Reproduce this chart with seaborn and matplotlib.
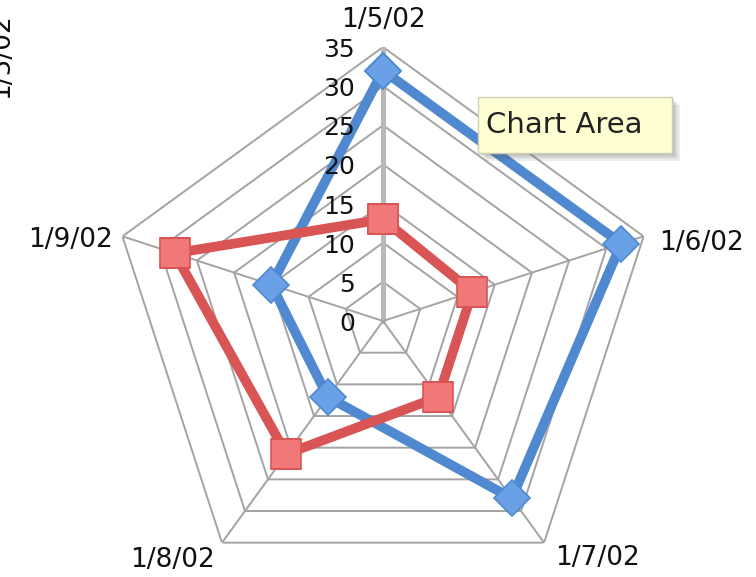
#!/usr/bin/env python3
"""Radar chart: two series over five dates (Excel-style pentagon grid)."""

import numpy as np
import matplotlib
matplotlib.use("Agg")
import matplotlib.pyplot as plt
import matplotlib.transforms as mtransforms
from matplotlib.patches import Rectangle
import seaborn as sns

# Data
categories = ["1/5/02", "1/6/02", "1/7/02", "1/8/02", "1/9/02"]
series_blue = [32, 32, 28, 12, 15]
series_red = [13, 12, 12, 21, 28]
radial_ticks = [0, 5, 10, 15, 20, 25, 30, 35]

# Style
sns.set_theme(style="white")
plt.rcParams["font.family"] = ["DejaVu Sans"]

BLUE = "#5089d0"
RED = "#d95454"
GRID = "#a3a3a3"


def closed(values):
    return list(values) + [values[0]]


fig = plt.figure(figsize=(7.56, 5.77), dpi=100)
ax = fig.add_axes([0.1442, -0.0312, 0.7249, 0.9497], projection="polar")
ax.set_theta_offset(np.pi / 2)
ax.set_theta_direction(-1)
ax.set_ylim(0, radial_ticks[-1])
ax.grid(False)
ax.set_xticks([])
ax.set_yticks([])
ax.spines["polar"].set_visible(False)
ax.patch.set_alpha(0)

angles = np.linspace(0, 2 * np.pi, len(categories), endpoint=False)
angles_c = list(angles) + [2 * np.pi]

# Pentagon grid
for level in radial_ticks[1:]:
    ax.plot(angles_c, [level] * len(angles_c), color=GRID, lw=1.4, zorder=1)
for i, a in enumerate(angles):
    ax.plot([a, a], [0, radial_ticks[-1]], color="#b8b8b8" if i == 0 else GRID,
            lw=3.6 if i == 0 else 1.4, zorder=1)

# Radial tick labels, left of the top spoke (drawn above the series)
tick_tr = mtransforms.offset_copy(ax.transData, fig=fig, x=-28, y=-3, units="dots")
for level in radial_ticks:
    ax.text(0, level, str(level), transform=tick_tr, ha="right", va="center",
            fontsize=18, color="#111111", zorder=10)

# Series (estimator=None so the closing point is not averaged away)
sns.lineplot(x=angles_c, y=closed(series_blue), ax=ax, sort=False,
             estimator=None, color=BLUE, lw=7, marker="D", markersize=18,
             markerfacecolor="#6aa0e6", markeredgecolor=BLUE,
             markeredgewidth=1.2, zorder=3)
sns.lineplot(x=angles_c, y=closed(series_red), ax=ax, sort=False,
             estimator=None, color=RED, lw=7, marker="s", markersize=21,
             markerfacecolor="#f07878", markeredgecolor=RED,
             markeredgewidth=1.2, zorder=4)
if ax.get_legend():
    ax.get_legend().remove()
ax.set_xlabel("")
ax.set_ylabel("")

# Category labels around the outer ring
label_fmt = [
    ("center", 0, 27),
    ("left", 16, -7),
    ("left", 11, -15),
    ("right", -7, -17),
    ("right", -10, -4),
]
for a, lab, (ha, dx, dy) in zip(angles, categories, label_fmt):
    tr = mtransforms.offset_copy(ax.transData, fig=fig, x=dx, y=dy, units="dots")
    ax.text(a, radial_ticks[-1], lab, transform=tr, ha=ha, va="center",
            fontsize=19, color="#111111", zorder=10)

# Tooltip with a soft drop shadow
W, H = 756, 577
bx, by, bw, bh = 478, 97, 194, 56
for k, alpha in enumerate([0.10, 0.10, 0.12, 0.14]):
    off = 8 - 2 * k
    fig.patches.append(Rectangle(((bx + off) / W, 1 - (by + bh + off) / H),
                                 bw / W, bh / H, transform=fig.transFigure,
                                 facecolor="#555555", edgecolor="none",
                                 alpha=alpha, zorder=5))
fig.patches.append(Rectangle((bx / W, 1 - (by + bh) / H), bw / W, bh / H,
                             transform=fig.transFigure, facecolor="#ffffd2",
                             edgecolor="#d0d0b8", lw=1, zorder=6))
fig.text((bx + 8) / W, 1 - (by + bh / 2) / H, "Chart Area", ha="left",
         va="center", fontsize=21, color="#222222", zorder=7)

# Clipped rotated title at the left edge
fig.text(8 / W, 1 - 98 / H, "1/5/02", rotation=90, rotation_mode="anchor",
         ha="left", va="baseline", fontsize=19, color="#111111")

fig.savefig("out.png", dpi=100)
